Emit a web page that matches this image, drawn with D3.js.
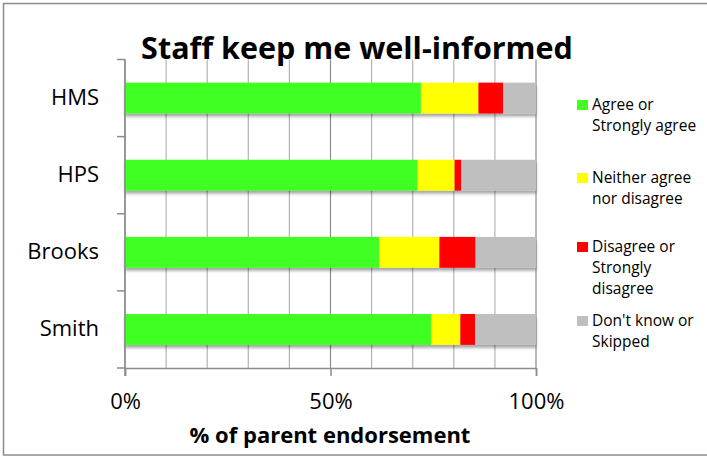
<!DOCTYPE html>
<html>
<head>
<meta charset="utf-8">
<script src="https://cdn.jsdelivr.net/npm/d3@7"></script>
<style>
  body { margin: 0; background: #fff; }
  svg { display: block; font-family: "Open Sans", sans-serif; }
</style>
</head>
<body>
<svg id="chart"></svg>
<script>
var screen = {width: 707, height: 458}
var margins = {top: 59.5, right: 171, bottom: 90, left: 125}

// data (percent of parents)
var schools = ["HMS", "HPS", "Brooks", "Smith"]
var agree = [72.0, 71.2, 61.8, 74.5]
var neither = [14.0, 9.0, 14.7, 7.1]
var disagree = [6.0, 1.6, 8.8, 3.6]
var dontKnow = [8.0, 18.2, 14.7, 14.8]

var seriesKeys = ["agree", "neither", "disagree", "dontKnow"]
var seriesLabels = [["Agree or", "Strongly agree"], ["Neither agree", "nor disagree"],
                    ["Disagree or", "Strongly", "disagree"], ["Don't know or", "Skipped"]]
var seriesColors = ["#40ff20", "#ffff00", "#ff0000", "#bfbfbf"]
var xTicks = [0, 50, 100]

var svg = d3.select("#chart")
    .attr("width", screen.width)
    .attr("height", screen.height)

var defs = svg.append("defs")
defs.append("filter")
    .attr("id", "shadow")
    .attr("x", "-5%").attr("y", "-20%").attr("width", "110%").attr("height", "160%")
    .append("feDropShadow")
    .attr("dx", 0).attr("dy", 3).attr("stdDeviation", 1.8)
    .attr("flood-color", "#000").attr("flood-opacity", 0.35)

// chart frame (right edge falls outside the window)
svg.append("rect")
    .attr("x", 3.5).attr("y", 3.5)
    .attr("width", 712).attr("height", 451.5)
    .attr("fill", "#fff")
    .attr("stroke", "#8c8c8c")
    .attr("stroke-width", 1.5)

var width = screen.width - margins.left - margins.right
var height = screen.height - margins.top - margins.bottom

var xScale = d3.scaleLinear()
    .domain([0, 100])
    .range([margins.left, margins.left + width])

var yScale = d3.scaleBand()
    .domain(schools)
    .range([margins.top, margins.top + height])
    .paddingInner(0.6)
    .paddingOuter(0.3)

var table = schools.map(function(s, i) {
    return {school: s, agree: agree[i], neither: neither[i], disagree: disagree[i], dontKnow: dontKnow[i]}
})
var stacked = d3.stack().keys(seriesKeys)(table)

// gridlines
svg.append("g")
    .selectAll("line")
    .data(xScale.ticks(10))
    .enter()
    .append("line")
    .attr("x1", function(d) { return xScale(d) })
    .attr("x2", function(d) { return xScale(d) })
    .attr("y1", margins.top)
    .attr("y2", margins.top + height)
    .attr("stroke", function(d) { return d % 50 == 0 ? "#8c8c8c" : "#b4b4b4" })
    .attr("stroke-width", 1.2)

// bars
var rows = svg.append("g")
    .selectAll("g")
    .data(table)
    .enter()
    .append("g")
    .attr("filter", "url(#shadow)")

rows.selectAll("rect")
    .data(function(d, i) { return stacked.map(function(s, k) { return {seg: s[i], k: k} }) })
    .enter()
    .append("rect")
    .attr("x", function(d) { return xScale(d.seg[0]) })
    .attr("width", function(d) { return xScale(d.seg[1]) - xScale(d.seg[0]) })
    .attr("y", function(d) { return yScale(d.seg.data.school) })
    .attr("height", yScale.bandwidth())
    .attr("fill", function(d) { return seriesColors[d.k] })

// x axis
var xAxis = d3.axisBottom(xScale)
    .tickValues(xTicks)
    .tickFormat(function(d) { return d + "%" })
    .tickSize(8)
    .tickPadding(17)

var gx = svg.append("g")
    .attr("transform", "translate(0," + (margins.top + height) + ")")
    .call(xAxis)
gx.select(".domain").attr("stroke", "#8c8c8c").attr("stroke-width", 1.5)
gx.selectAll(".tick line").attr("stroke", "#8c8c8c").attr("stroke-width", 1.5)
gx.selectAll(".tick text")
    .attr("font-family", "Open Sans")
    .attr("font-size", 22)
    .attr("fill", "#000")

// y axis: labels centred in bands, ticks at band edges
var yAxis = d3.axisLeft(yScale).tickSize(0).tickPadding(26)
var gy = svg.append("g")
    .attr("transform", "translate(" + margins.left + ",0)")
    .call(yAxis)
gy.select(".domain").remove()
gy.selectAll(".tick text")
    .attr("font-family", "Open Sans")
    .attr("font-size", 22)
    .attr("fill", "#000")

var edges = d3.range(schools.length + 1).map(function(i) { return yScale.range()[0] + i * yScale.step() })
svg.append("g")
    .selectAll("line")
    .data(edges)
    .enter()
    .append("line")
    .attr("x1", margins.left - 8)
    .attr("x2", margins.left)
    .attr("y1", function(d) { return d })
    .attr("y2", function(d) { return d })
    .attr("stroke", "#8c8c8c")
    .attr("stroke-width", 1.5)

svg.append("line")
    .attr("x1", margins.left).attr("x2", margins.left)
    .attr("y1", margins.top).attr("y2", margins.top + height + 8)
    .attr("stroke", "#8c8c8c")
    .attr("stroke-width", 1.5)

// title
svg.append("text")
    .attr("x", 357)
    .attr("y", 59)
    .attr("text-anchor", "middle")
    .attr("font-size", 30.5)
    .attr("font-weight", "bold")
    .text("Staff keep me well-informed")

// axis title
svg.append("text")
    .attr("x", 330)
    .attr("y", 443)
    .attr("text-anchor", "middle")
    .attr("font-size", 22)
    .attr("font-weight", "bold")
    .text("% of parent endorsement")

// legend
var legendTops = [100, 173, 242, 316]
var legend = svg.append("g")
    .selectAll("g")
    .data(seriesLabels)
    .enter()
    .append("g")
    .attr("transform", function(d, i) { return "translate(577," + legendTops[i] + ")" })

legend.append("rect")
    .attr("width", 11)
    .attr("height", 10)
    .attr("fill", function(d, i) { return seriesColors[i] })

legend.append("text")
    .attr("font-size", 15.5)
    .selectAll("tspan")
    .data(function(d) { return d })
    .enter()
    .append("tspan")
    .attr("x", 15)
    .attr("y", function(d, j) { return 10 + j * 21 })
    .text(function(d) { return d })
</script>
</body>
</html>
